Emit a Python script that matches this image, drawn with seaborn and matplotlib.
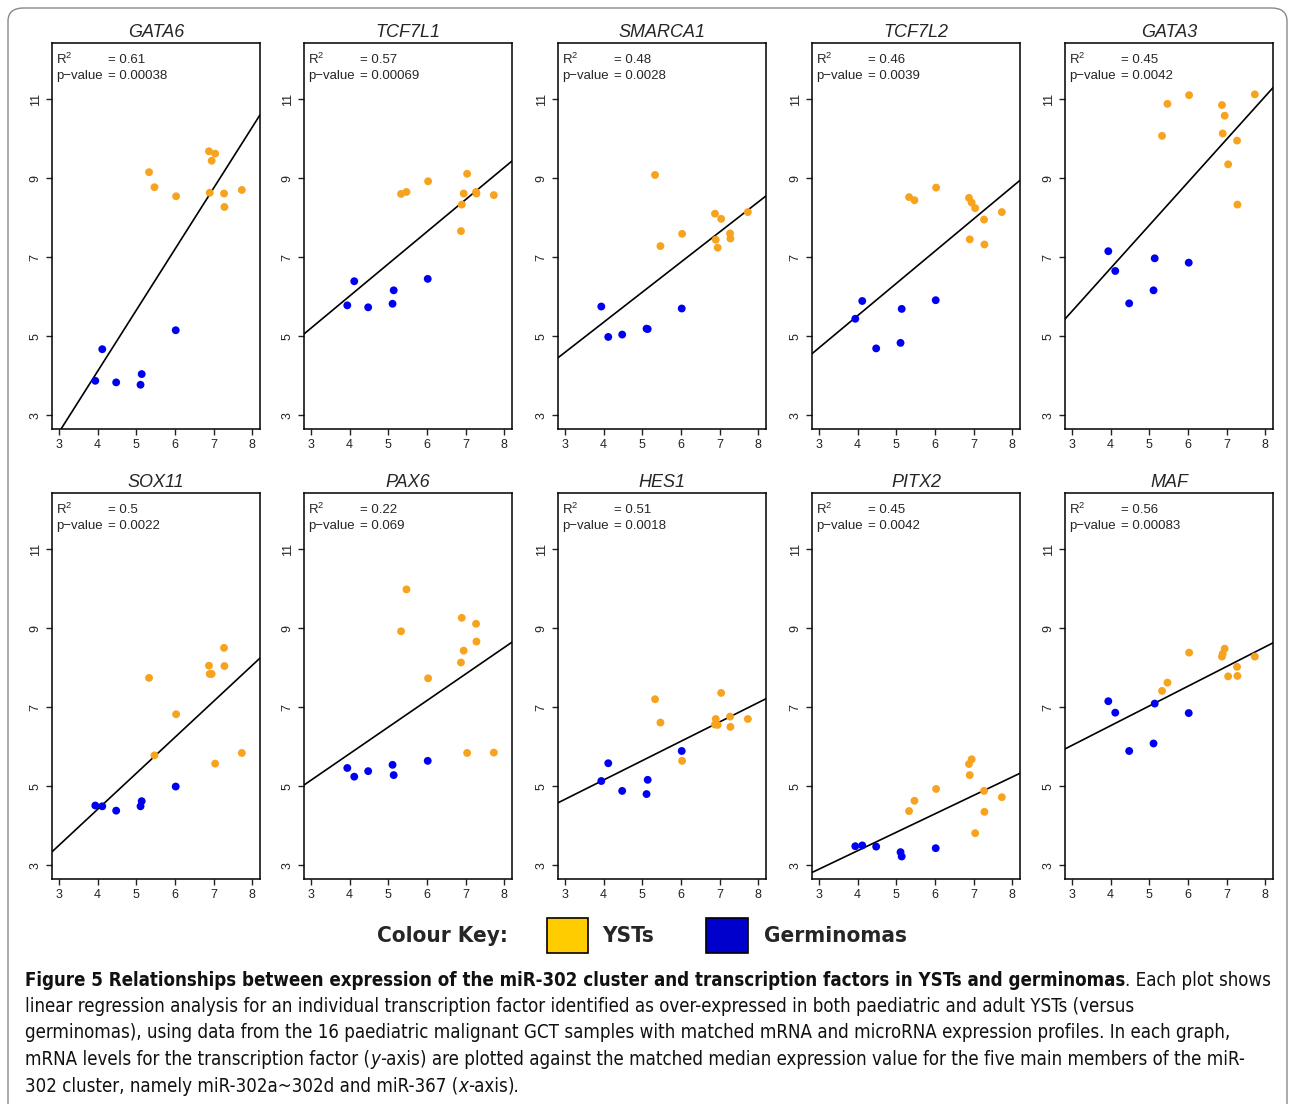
import pandas as pd
import matplotlib
matplotlib.use("Agg")
import matplotlib.pyplot as plt
import seaborn as sns
from matplotlib import font_manager
from matplotlib.patches import Rectangle, FancyBboxPatch

# panel names and regression stats as printed in each panel
genes = ["GATA6", "TCF7L1", "SMARCA1", "TCF7L2", "GATA3",
         "SOX11", "PAX6", "HES1", "PITX2", "MAF"]
r_squared = ["0.61", "0.57", "0.48", "0.46", "0.45",
             "0.5", "0.22", "0.51", "0.45", "0.56"]
p_values = ["0.00038", "0.00069", "0.0028", "0.0039", "0.0042",
            "0.0022", "0.069", "0.0018", "0.0042", "0.00083"]

# median miR-302 cluster expression (x) - same samples in every panel
germ_x = [3.94, 4.12, 4.48, 5.11, 5.14, 6.02]
yst_x = [5.33, 5.47, 6.03, 6.88, 6.90, 6.95, 7.04, 7.27, 7.28, 7.73]

# mRNA levels (y) per transcription factor
germ_y = {
    "GATA6": [3.87, 4.67, 3.83, 3.77, 4.04, 5.15],
    "TCF7L1": [5.78, 6.39, 5.73, 5.82, 6.16, 6.45],
    "SMARCA1": [5.75, 4.98, 5.04, 5.19, 5.18, 5.70],
    "TCF7L2": [5.44, 5.89, 4.69, 4.83, 5.69, 5.91],
    "GATA3": [7.15, 6.65, 5.83, 6.16, 6.97, 6.86],
    "SOX11": [4.51, 4.49, 4.38, 4.49, 4.62, 4.99],
    "PAX6": [5.46, 5.24, 5.38, 5.54, 5.28, 5.64],
    "HES1": [5.13, 5.58, 4.88, 4.80, 5.16, 5.89],
    "PITX2": [3.48, 3.50, 3.47, 3.33, 3.22, 3.43],
    "MAF": [7.15, 6.86, 5.89, 6.08, 7.09, 6.85],
}
yst_y = {
    "GATA6": [9.15, 8.77, 8.54, 9.68, 8.63, 9.44, 9.62, 8.61, 8.27, 8.70],
    "TCF7L1": [8.60, 8.65, 8.92, 7.66, 8.33, 8.61, 9.11, 8.65, 8.61, 8.57],
    "SMARCA1": [9.08, 7.28, 7.59, 8.10, 7.44, 7.24, 7.97, 7.60, 7.47, 8.14],
    "TCF7L2": [8.52, 8.44, 8.76, 8.50, 7.45, 8.38, 8.24, 7.95, 7.32, 8.14],
    "GATA3": [10.07, 10.88, 11.10, 10.85, 10.13, 10.58, 9.35, 9.95, 8.33, 11.12],
    "SOX11": [7.74, 5.78, 6.82, 8.05, 7.84, 7.84, 5.57, 8.50, 8.04, 5.84],
    "PAX6": [8.92, 9.98, 7.73, 8.13, 9.26, 8.43, 5.84, 9.11, 8.66, 5.85],
    "HES1": [7.20, 6.61, 5.64, 6.56, 6.70, 6.55, 7.36, 6.76, 6.50, 6.70],
    "PITX2": [4.37, 4.63, 4.93, 5.56, 5.28, 5.68, 3.81, 4.88, 4.35, 4.72],
    "MAF": [7.41, 7.62, 8.38, 8.28, 8.35, 8.48, 7.78, 8.02, 7.79, 8.28],
}

palette = {"YST": "#F7A31E", "Germinoma": "#0000F0"}

W, H = 1290, 1104


def px(x, y):
    return x / W, 1 - y / H


def narrow_font():
    # pick a condensed sans if one is installed
    fonts = font_manager.fontManager.ttflist
    names = set(f.name for f in fonts)
    if "Liberation Sans Narrow" in names:
        return {"family": "Liberation Sans Narrow"}
    for f in fonts:
        if f.name == "DejaVu Sans" and "ondensed" in f.fname:
            return {"family": "DejaVu Sans", "stretch": "condensed"}
    return {"family": "Liberation Sans"}


def line_width(fig, renderer, segs, size, nf):
    total = 0
    for txt, wt, st in segs:
        t = fig.text(0, 0, txt, fontsize=size, weight=wt, style=st, **nf)
        total += t.get_window_extent(renderer=renderer).width
        t.remove()
    return total


def main():
    sns.set_style("white")
    plt.rcParams["font.family"] = ["Liberation Sans", "DejaVu Sans"]

    fig = plt.figure(figsize=(W / 100, H / 100), dpi=100)

    lefts = [52, 304, 558, 812, 1065]
    bottoms = [429, 879]

    for i, gene in enumerate(genes):
        l = lefts[i % 5]
        b = bottoms[i // 5]
        ax = fig.add_axes([l / W, 1 - b / H, 208 / W, 386 / H])

        df = pd.DataFrame({
            "mir302": germ_x + yst_x,
            "mrna": germ_y[gene] + yst_y[gene],
            "group": ["Germinoma"] * len(germ_x) + ["YST"] * len(yst_x),
        })

        ax.set_xlim(2.82, 8.2)
        ax.set_ylim(2.65, 12.42)
        sns.regplot(data=df, x="mir302", y="mrna", scatter=False, ci=None,
                    truncate=False, color="black", line_kws={"lw": 1.2}, ax=ax)
        sns.scatterplot(data=df, x="mir302", y="mrna", hue="group",
                        palette=palette, s=32, edgecolor="none",
                        legend=False, ax=ax, zorder=3)
        ax.set_xlim(2.82, 8.2)
        ax.set_ylim(2.65, 12.42)

        ax.set_xticks([3, 4, 5, 6, 7, 8])
        ax.set_yticks([3, 5, 7, 9, 11])
        ax.set_xlabel("")
        ax.set_ylabel("")
        ax.tick_params(direction="out", length=4, width=1, labelsize=9,
                       colors="#222222", left=True, bottom=True)
        ax.tick_params(axis="y", labelrotation=90)
        for lab in ax.get_yticklabels():
            lab.set_va("center")
        for sp in ax.spines.values():
            sp.set_color("black")
            sp.set_linewidth(1.1)

        ax.set_title(gene, style="italic", fontsize=13, pad=4)

        ax.text(0.02, 0.957, r"R$^{\mathregular{2}}$", transform=ax.transAxes,
                fontsize=9.5, va="center")
        ax.text(0.27, 0.957, "= " + r_squared[i], transform=ax.transAxes,
                fontsize=9.5, va="center")
        ax.text(0.02, 0.915, "p\u2212value", transform=ax.transAxes,
                fontsize=9.5, va="center")
        ax.text(0.27, 0.915, "= " + p_values[i], transform=ax.transAxes,
                fontsize=9.5, va="center")

    fig.canvas.draw()
    renderer = fig.canvas.get_renderer()
    nf = narrow_font()

    # colour key
    key_seg = [("Colour Key:", "bold", "normal")]
    key_size = 20 * 131 / line_width(fig, renderer, key_seg, 20, nf)
    fig.text(*px(377, 936), "Colour Key:", fontsize=key_size, weight="bold",
             va="center", **nf)
    fig.patches.append(Rectangle(px(547, 953), 41 / W, 35 / H,
                                 transform=fig.transFigure,
                                 facecolor="#FFCC00", edgecolor="black", lw=1.2))
    fig.text(*px(602, 936), "YSTs", fontsize=key_size, weight="bold",
             va="center", **nf)
    fig.patches.append(Rectangle(px(706, 953), 42 / W, 35 / H,
                                 transform=fig.transFigure,
                                 facecolor="#0000CC", edgecolor="black", lw=1.2))
    fig.text(*px(764, 936), "Germinomas", fontsize=key_size, weight="bold",
             va="center", **nf)

    # caption
    lines = [
        [("Figure 5 Relationships between expression of the miR-302 cluster and "
          "transcription factors in YSTs and germinomas", "bold", "normal"),
         (". Each plot shows", "normal", "normal")],
        [("linear regression analysis for an individual transcription factor "
          "identified as over-expressed in both paediatric and adult YSTs (versus",
          "normal", "normal")],
        [("germinomas), using data from the 16 paediatric malignant GCT samples "
          "with matched mRNA and microRNA expression profiles. In each graph,",
          "normal", "normal")],
        [("mRNA levels for the transcription factor (", "normal", "normal"),
         ("y", "normal", "italic"), ("-axis", "normal", "normal"),
         (") are plotted against the matched median expression value for the "
          "five main members of the miR-", "normal", "normal")],
        [("302 cluster, namely miR-302a~302d and miR-367 (", "normal", "normal"),
         ("x", "normal", "italic"), ("-axis", "normal", "normal"),
         (").", "normal", "normal")],
    ]
    # the full-width lines end at x ~ 1278 in the reference
    cap_size = min(20 * 1253 / line_width(fig, renderer, lines[k], 20, nf)
                   for k in (0, 2, 3))
    y0 = 980
    for k, segs in enumerate(lines):
        x = 25
        y = y0 + k * 26.5
        for txt, wt, st in segs:
            t = fig.text(*px(x, y), txt, fontsize=cap_size, weight=wt, style=st,
                         va="center", color="#111111", **nf)
            bb = t.get_window_extent(renderer=renderer)
            x = bb.x1

    # outer frame
    frame = FancyBboxPatch((8 / W, -0.05), 1279 / W, 1.05 - 8 / H,
                           boxstyle="round,pad=0,rounding_size=0.012",
                           transform=fig.transFigure, fill=False,
                           edgecolor="#888888", lw=1)
    fig.patches.append(frame)

    fig.savefig("out.png", dpi=100)


if __name__ == "__main__":
    main()
